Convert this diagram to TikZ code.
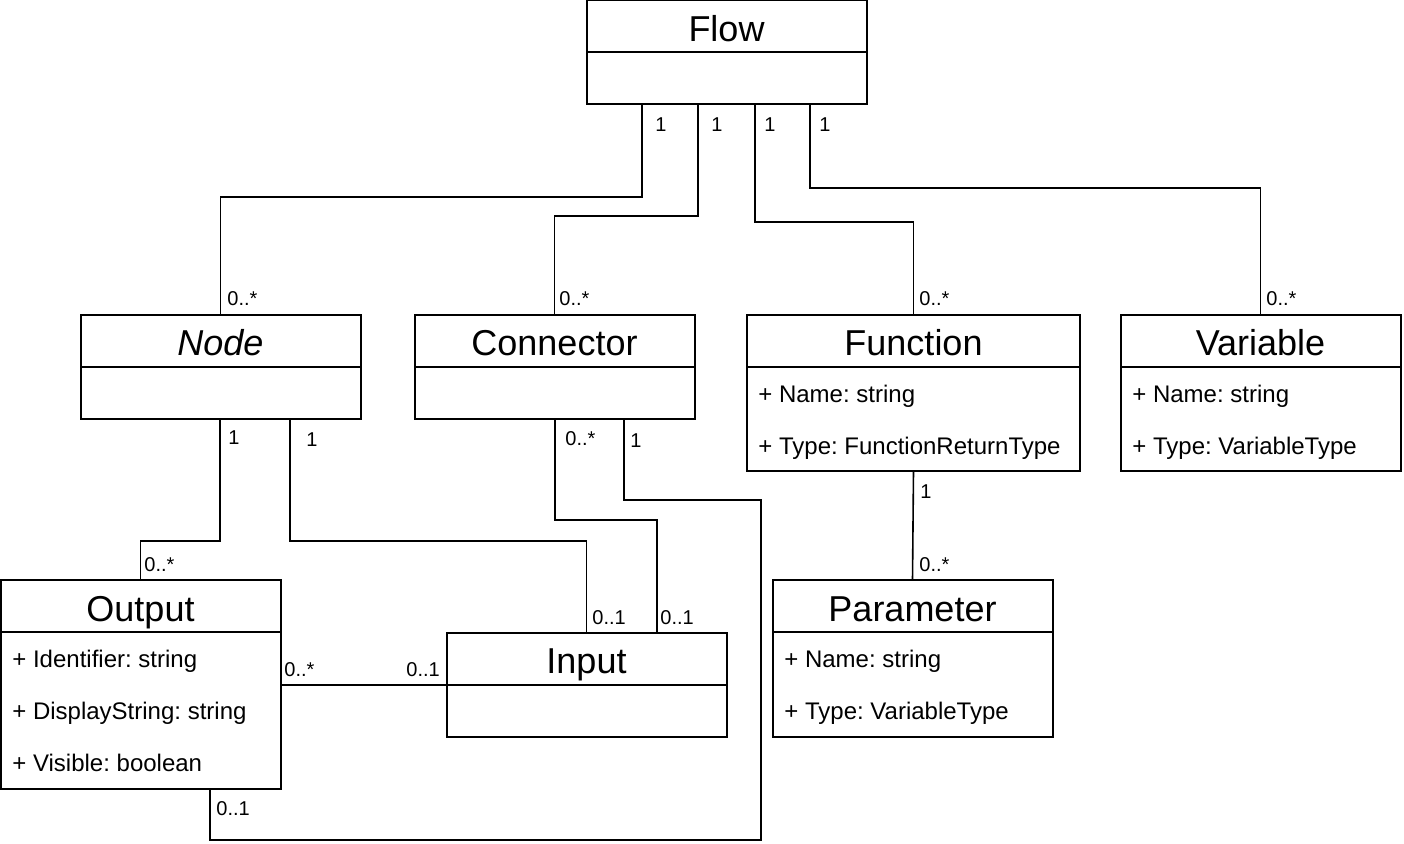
\documentclass[tikz,border=0pt]{standalone}
\usepackage{fontspec}
\setmainfont{Liberation Sans}
\usetikzlibrary{positioning}
\frenchspacing

\begin{document}
\begin{tikzpicture}[x=0.5pt,y=-0.5pt,
  head/.style={draw,line width=1pt,outer sep=0pt,inner sep=0pt,minimum width=140pt,minimum height=26pt,
    font=\fontsize{18}{20}\selectfont,text height=14.9pt,text depth=0pt},
  body/.style={draw,line width=1pt,outer sep=0pt,inner sep=0pt,minimum width=140pt,minimum height=26pt},
  attr/.style={anchor=west,inner sep=0pt,font=\fontsize{12}{14}\selectfont,text height=9.6pt,text depth=0pt},
  mult/.style={anchor=west,inner sep=0pt,font=\fontsize{10}{12}\selectfont,text height=7.6pt,text depth=0pt},
  link/.style={line width=0.8pt}]
\useasboundingbox (0,0) rectangle (1404,844);
% classes
\node[head] (fl) at (726.5,26.5) {Flow};
\node[body,below=0pt of fl] (flB) {};
\node[head] (nd) at (220.5,341) {\itshape Node};
\node[body,below=0pt of nd] (ndB) {};
\node[head] (co) at (554.5,341) {Connector};
\node[body,below=0pt of co] (coB) {};
\node[head,minimum width=166.5pt] (fu) at (913.5,341) {Function};
\node[body,below=0pt of fu,minimum width=166.5pt,minimum height=52pt] (fuB) {};
\node[attr] (fuA1) at (758,393) {+ Name: string};
\node[attr] (fuA2) at (758,445) {+ Type: FunctionReturnType};
\node[head] (va) at (1260.5,341) {Variable};
\node[body,below=0pt of va,minimum height=52pt] (vaB) {};
\node[attr] (vaA1) at (1132,393) {+ Name: string};
\node[attr] (vaA2) at (1132,445) {+ Type: VariableType};
\node[head] (ou) at (140.5,606.5) {Output};
\node[body,below=0pt of ou,minimum height=78pt] (ouB) {};
\node[attr] (ouA1) at (12,658) {+ Identifier: string};
\node[attr] (ouA2) at (12,710) {+ DisplayString: string};
\node[attr] (ouA3) at (12,762) {+ Visible: boolean};
\node[head] (in) at (586.5,659) {Input};
\node[body,below=0pt of in] (inB) {};
\node[head] (pa) at (912.5,606.5) {Parameter};
\node[body,below=0pt of pa,minimum height=52pt] (paB) {};
\node[attr] (paA1) at (784,658) {+ Name: string};
\node[attr] (paA2) at (784,710) {+ Type: VariableType};
% associations
\draw[link] (642,0 |- flB.south) -- (642,197) -| (nd.north);
\draw[link] (698,0 |- flB.south) -- (698,216) -| (co.north);
\draw[link] (755,0 |- flB.south) -- (755,222) -| (fu.north);
\draw[link] (810,0 |- flB.south) -- (810,188) -| (va.north);
\draw[link] (220,0 |- ndB.south) -- (220,541) -| (ou.north);
\draw[link] (290,0 |- ndB.south) -- (290,541) -| (in.north);
\draw[link] (555,0 |- coB.south) -- (555,520) -| (657,0 |- in.north);
\draw[link] (624,0 |- coB.south) -- (624,500) -- (761,500) -- (761,840) -| (210,0 |- ouB.south);
\draw[link] (ouB.east |- in.south west) -- (in.south west);
\draw[link] (fuB.south) -- (pa.north);
% multiplicities
\node[mult] (m1) at (655,124) {1};
\node[mult] (m2) at (711,124) {1};
\node[mult] (m3) at (764,124) {1};
\node[mult] (m4) at (819,124) {1};
\node[mult] (m5) at (227,298) {0..*};
\node[mult] (m6) at (559,298) {0..*};
\node[mult] (m7) at (919,298) {0..*};
\node[mult] (m8) at (1266,298) {0..*};
\node[mult] (m9) at (228,437) {1};
\node[mult] (m10) at (306,439) {1};
\node[mult] (m11) at (565,438) {0..*};
\node[mult] (m12) at (630,440) {1};
\node[mult] (m13) at (144,564) {0..*};
\node[mult] (m14) at (592,617) {0..1};
\node[mult] (m15) at (660,617) {0..1};
\node[mult] (m16) at (284,669) {0..*};
\node[mult] (m17) at (406,669) {0..1};
\node[mult] (m18) at (216,808) {0..1};
\node[mult] (m19) at (920,491) {1};
\node[mult] (m20) at (919,564) {0..*};
\end{tikzpicture}
\end{document}
